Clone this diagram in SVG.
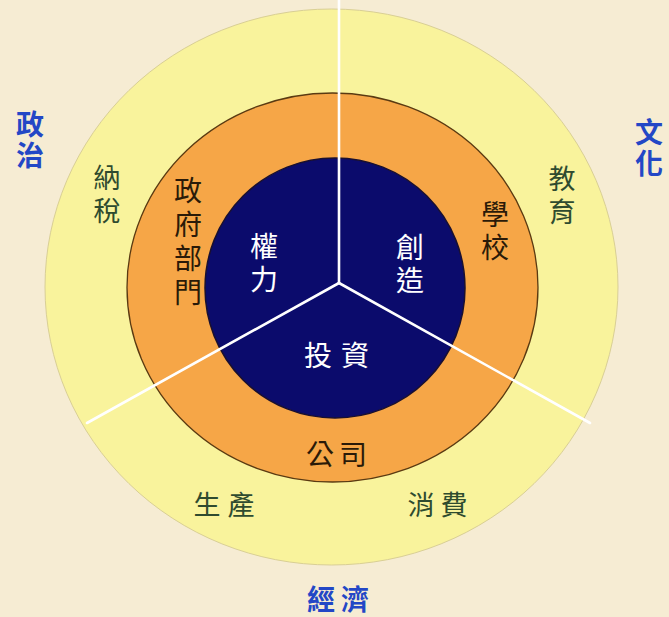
<svg xmlns="http://www.w3.org/2000/svg" width="669" height="617" viewBox="0 0 669 617">
<style>
.bg{fill:#F6ECD3}
.outer{fill:#F9F39C;stroke:#D9CF95;stroke-width:1}
.mid{fill:#F6A647;stroke:#5A3A12;stroke-width:1.3}
.inner{fill:#0B0B6C;stroke:#1A1030;stroke-width:1.5}
.sep{stroke:#FFFFFF;stroke-width:2.6;fill:none;stroke-linecap:round}
text{font-family:"Noto Sans CJK TC","Noto Sans CJK SC",sans-serif;text-anchor:middle;dominant-baseline:central}
.v{writing-mode:vertical-rl}
.dom{fill:#2347C6;font-size:28px;font-weight:700}
.green{fill:#2F4B2F;font-size:27px}
.dark{fill:#2A1A08;font-size:28px}
.white{fill:#FFFFFF;font-size:28px}
</style>
<rect class="bg" x="0" y="0" width="669" height="617"/>
<g id="ring-outer">
<ellipse class="outer" cx="331.5" cy="287" rx="286.5" ry="278"/>
</g>
<g id="ring-middle">
<ellipse class="mid" cx="332.5" cy="287.5" rx="205.5" ry="194.5"/>
</g>
<g id="core">
<circle class="inner" cx="335" cy="288" r="130"/>
</g>
<g id="connectors">
<line class="sep" x1="339" y1="0" x2="339" y2="283"/>
<line class="sep" x1="339" y1="283" x2="87" y2="423"/>
<line class="sep" x1="339" y1="283" x2="590" y2="423"/>
</g>
<g id="politics">
<text class="dom v" x="30" y="141" letter-spacing="3">政治</text>
<text class="green v" x="107" y="197.5" letter-spacing="6">納稅</text>
<text class="dark v" x="188" y="244" letter-spacing="6">政府部門</text>
<text class="white v" x="264" y="265" letter-spacing="5">權力</text>
</g>
<g id="culture">
<text class="dom v" x="649" y="149" letter-spacing="3">文化</text>
<text class="green v" x="562" y="198.5" letter-spacing="6">教育</text>
<text class="dark v" x="495" y="233" letter-spacing="5">學校</text>
<text class="white v" x="410" y="266" letter-spacing="5">創造</text>
</g>
<g id="economy">
<text class="white" x="341" y="354" letter-spacing="9">投資</text>
<text class="dark" x="339" y="453" letter-spacing="5">公司</text>
<text class="green" x="227.5" y="503" letter-spacing="7">生產</text>
<text class="green" x="440.5" y="503" letter-spacing="6">消費</text>
<text class="dom" x="341" y="598" letter-spacing="6">經濟</text>
</g>
</svg>
